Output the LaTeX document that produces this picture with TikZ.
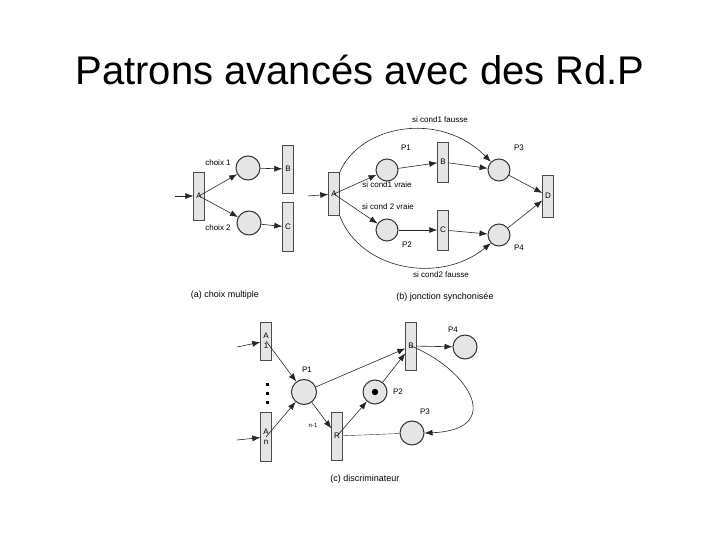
\documentclass[tikz,border=0pt]{standalone}
\usepackage{fontspec}
\setmainfont{Liberation Sans}
\usetikzlibrary{arrows.meta}
\begin{document}
\begin{tikzpicture}[x=1pt,y=-1pt,
 tr/.style={draw=black!70,fill=black!10,minimum width=11pt,inner sep=0pt,font=\fontsize{8}{8}\selectfont},
 pl/.style={circle,draw=black!80,line width=1pt,fill=black!10,minimum size=24pt,inner sep=0pt},
 lb/.style={font=\fontsize{8}{8}\selectfont,inner sep=1pt},
 captxt/.style={font=\fontsize{9}{9}\selectfont},
 ar/.style={-{Latex[length=8pt,width=6pt]},black!85,line width=0.6pt}]
\useasboundingbox (0,0) rectangle (720,540);
\node[font=\fontsize{40}{42}\selectfont] (title) at (360,70) {Patrons avancés avec des Rd.P};
% (a)
\node[tr,minimum height=48pt] (aA) at (199,196) {A};
\node[pl] (a1) at (248,168) {};
\node[pl] (a2) at (249,223) {};
\node[tr,minimum height=48pt] (aB) at (288,169) {B};
\node[tr,minimum height=49pt] (aC) at (288,227) {C};
\coordinate (ain) at (175,196);
\draw[ar] (ain) -- (aA);
\draw[ar] (aA.center) -- (a1);
\draw[ar] (aA.center) -- (a2);
\draw[ar] (a1) -- (aB);
\draw[ar] (a2) -- (aC);
\node[lb] (lc1) at (218,163) {choix 1};
\node[lb] (lc2) at (218,228) {choix 2};
\node[captxt] (capa) at (225,295) {(a) choix multiple};
% (b)
\node[tr,minimum height=43pt] (bA) at (334,194) {A};
\node[pl,minimum size=22pt] (bP1) at (387,170) {};
\node[pl,minimum size=22pt] (bP2) at (387,230) {};
\node[tr,minimum height=40pt] (bB) at (443,162) {B};
\node[tr,minimum height=40pt] (bC) at (443,230) {C};
\node[pl,minimum size=22pt] (bP3) at (499,170) {};
\node[pl,minimum size=22pt] (bP4) at (499,235) {};
\node[tr,minimum height=42pt] (bD) at (548,196) {D};
\coordinate (bin) at (308,196);
\draw[ar] (bin) -- (bA);
\draw[ar] (bA.center) -- (bP1);
\draw[ar] (bA.center) -- (bP2);
\draw[ar] (bP1) -- (bB);
\draw[ar] (bP2) -- (bC);
\draw[ar] (bB) -- (bP3);
\draw[ar] (bC) -- (bP4);
\draw[ar] (bP3) -- (bD);
\draw[ar] (bP4) -- (bD);
\draw[ar] (bA.north east) .. controls (360,125) and (440,110) .. (bP3.north west);
\draw[ar] (bA.south east) .. controls (360,270) and (440,285) .. (bP4.south west);
\node[lb] at (440,120) {si cond1 fausse};
\node[lb] at (387,185) {si cond1 vraie};
\node[lb] at (388,207) {si cond 2 vraie};
\node[lb] at (441,275) {si cond2 fausse};
\node[lb] at (406,148) {P1};
\node[lb] at (519,148) {P3};
\node[lb] at (407,245) {P2};
\node[lb] at (519,248) {P4};
\node[captxt] (capb) at (445,297) {(b) jonction synchonisée};
% (c)
\node[tr,minimum height=38pt,align=center,font=\fontsize{8}{10}\selectfont] (cA1) at (266,341) {A\\1};
\node[tr,minimum height=49pt,align=center,font=\fontsize{8}{10}\selectfont] (cAn) at (266,437) {A\\n};
\foreach \yy in {383,392,401} \fill (266,\yy) rectangle +(2.5,2.5);
\node[pl,minimum size=25pt] (cP1) at (304,392) {};
\node[tr,minimum height=48pt] (cB) at (411,346) {B};
\node[pl,minimum size=24pt] (cP4) at (465,347) {};
\node[pl,minimum size=24pt] (cP2) at (375,392) {};
\fill (cP2) circle (3.2pt);
\node[tr,minimum height=48pt] (cR) at (337,436) {R};
\node[pl,minimum size=24pt] (cP3) at (412,433) {};
\coordinate (c1in) at (237,347);
\coordinate (cnin) at (237,440);
\draw[ar] (c1in) -- (cA1);
\draw[ar] (cnin) -- (cAn);
\draw[ar] (cA1.center) -- (cP1);
\draw[ar] (cAn.center) -- (cP1);
\draw[ar] (cP1) -- (cB);
\draw[ar] (cP1) -- (cR);
\draw[ar] (cR.center) -- (cP2);
\draw[ar] (cP2) -- (cB);
\draw[ar] (cB) -- (cP4);
\draw[black!80] (cP3) -- (cR);
\draw[ar] (cB.center) .. controls (470,370) and (505,430) .. (cP3.east);
\node[lb,font=\fontsize{6}{6}\selectfont] at (313,425) {n-1};
\node[lb] at (307,370) {P1};
\node[lb] at (398,392) {P2};
\node[lb] at (425,412) {P3};
\node[lb] at (453,330) {P4};
\node[captxt] (capc) at (365,479) {(c) discriminateur};
\end{tikzpicture}
\end{document}
